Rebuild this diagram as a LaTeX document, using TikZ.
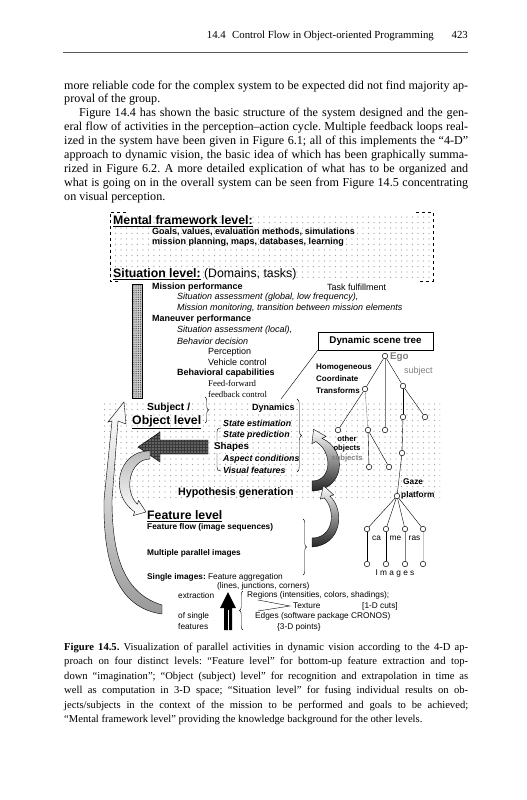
\documentclass[tikz,border=0pt]{standalone}
\usepackage{fontspec}
\setmainfont{Liberation Serif}
\setsansfont{Liberation Sans}
\usepackage{tikz}
\usetikzlibrary{calc,decorations.pathreplacing,patterns.meta}

\newcommand{\jl}[2][404pt]{\makebox[#1][s]{#2}}
\frenchspacing

\tikzset{
  hd/.style={inner sep=0pt, font=\fontsize{10.8}{12}\selectfont},
  txt/.style={anchor=base west, inner sep=0pt, font=\fontsize{12.1}{14}\selectfont},
  captxt/.style={anchor=base west, inner sep=0pt, font=\fontsize{10.6}{13}\selectfont},
  lvl/.style={anchor=west, inner sep=0pt, font=\sffamily\fontsize{12.3}{14}\selectfont},
  fig/.style={anchor=west, inner sep=0pt, font=\sffamily\fontsize{9}{10}\selectfont},
  figb/.style={fig, font=\sffamily\bfseries\fontsize{9}{10}\selectfont},
  figi/.style={fig, font=\sffamily\itshape\fontsize{9}{10}\selectfont},
  figbi/.style={fig, font=\sffamily\bfseries\itshape\fontsize{8.8}{10}\selectfont},
  fign/.style={fig, font=\sffamily\fontsize{8.3}{10}\selectfont},
  fignb/.style={fig, font=\sffamily\bfseries\fontsize{8.3}{10}\selectfont},
  tn/.style={circle, draw, fill=white, inner sep=0pt, minimum size=5.5pt, line width=0.5pt},
  dotfill/.style={pattern={Dots[distance=5.5pt, radius=0.55pt]}, pattern color=gray!75},
  brc/.style={decorate, decoration={brace, amplitude=3.5pt}, line width=0.4pt},
}

\begin{document}
\begin{tikzpicture}[x=1pt, y=-1pt]
  \useasboundingbox (0,0) rectangle (527,800);
  \fill[white] (0,0) rectangle (527,800);

  % Running head
  \node[hd, anchor=base east] (head) at (434,39) {14.4\hspace{0.6em}Control Flow in Object-oriented Programming};
  \node[hd, anchor=base east] (pageno) at (468,39) {423};
  \draw[line width=0.5pt, gray!70!black] (63,52) -- (468,52);

  % Body text
  \node[txt] (l1) at (64,89) {\jl{more reliable code for the complex system to be expected did not find majority ap-}};
  \node[txt] (l2) at (64,102.9) {proval of the group.};
  \node[txt] (l3) at (79,116.8) {\jl[389pt]{Figure 14.4 has shown the basic structure of the system designed and the gen-}};
  \node[txt] (l4) at (64,130.7) {\jl{eral flow of activities in the perception–action cycle. Multiple feedback loops real-}};
  \node[txt] (l5) at (64,144.6) {\jl{ized in the system have been given in Figure 6.1; all of this implements the “4-D”}};
  \node[txt] (l6) at (64,158.5) {\jl{approach to dynamic vision, the basic idea of which has been graphically summa-}};
  \node[txt] (l7) at (64,172.4) {\jl{rized in Figure 6.2. A more detailed explication of what has to be organized and}};
  \node[txt] (l8) at (64,186.3) {\jl{what is going on in the overall system can be seen from Figure 14.5 concentrating}};
  \node[txt] (l9) at (64,200.2) {on visual perception.};

  % Mental framework and situation level
  \fill[dotfill] (110,212) rectangle (433,281);
  \draw[dashed, line width=0.4pt] (126,212) -- (110,212) -- (110,281) -- (118,281);
  \draw[dashed, line width=0.4pt] (416,212) -- (433,212) -- (433,281) -- (418,281);
  \node[lvl] (mental) at (113,221) {\textbf{\underline{Mental framework level:}}};
  \node[figb] (goals) at (152,231.5) {Goals, values, evaluation methods, simulations};
  \node[figb] (plan) at (152,242) {mission planning, maps, databases, learning};
  \node[lvl] (sit) at (113,274) {\textbf{\underline{Situation level:}} (Domains, tasks)};

  \fill[gray!35] (132,284) rectangle (142,398);
  \fill[pattern={Dots[distance=1.8pt, radius=0.5pt]}, pattern color=gray!40!black] (132,284) rectangle (142,398);
  \draw[line width=0.5pt] (132,284) rectangle (142,398);

  \node[figb] (mperf) at (152,287) {Mission performance};
  \node[fig] (task) at (327,287) {Task fulfillment};
  \node[figi] (sglob) at (177,297.5) {Situation assessment (global, low frequency),};
  \node[figi] (mmon) at (177,308) {Mission monitoring, transition between mission elements};
  \node[figb] (manv) at (152,319) {Maneuver performance};
  \node[figi] (sloc) at (177,330) {Situation assessment (local),};
  \node[figi] (bdec) at (177,341) {Behavior decision};
  \node[fig] (perc) at (208,352) {Perception};
  \node[fig] (vctl) at (208,362) {Vehicle control};
  \node[figb] (bcap) at (177,373) {Behavioral capabilities};
  \node[fig, font=\rmfamily\fontsize{8.8}{10}\selectfont] (ff) at (208,383.5) {Feed-forward};
  \node[fig, font=\rmfamily\fontsize{8.8}{10}\selectfont] (fb) at (208,394.5) {feedback control};

  % Object level
  \fill[dotfill] (100,400) rectangle (440,501);
  \node[fig, font=\sffamily\bfseries\fontsize{10.3}{12}\selectfont] (subj) at (147,408) {Subject /};
  \node[lvl] (objlvl) at (132,422) {\textbf{\underline{Object level}}};
  \node[figb] (dyn) at (252,408) {Dynamics};
  \node[figbi] (sest) at (223,423) {State estimation};
  \node[figbi] (spred) at (223,435) {State prediction};
  \node[fig, font=\sffamily\bfseries\fontsize{9.8}{11}\selectfont] (shapes) at (214,447) {Shapes};
  \node[figbi] (asp) at (223,459) {Aspect conditions};
  \node[figbi] (vis) at (223,470) {Visual features};
  \node[fig, font=\sffamily\bfseries\fontsize{10.7}{12}\selectfont] (hyp) at (178,493) {Hypothesis generation};

  \draw[brc] (205,397) -- (205,423);
  \draw[line width=0.4pt] (221,428) .. controls (217,428) and (217,430) .. (217,434) -- (217,441);
  \draw[line width=0.4pt] (217,453) -- (217,467) .. controls (217,470) and (218,471) .. (221,471);
  \draw[brc, decoration={amplitude=4.5pt}] (297,399) -- (297,472);

  % Checkered arrow to the left
  \fill[gray!45!black] (208,440) -- (160,440) -- (160,432) -- (138,447) -- (160,462) -- (160,454) -- (208,454) -- cycle;
  \fill[pattern={Dots[distance=3pt, radius=0.65pt]}, pattern color=gray!15] (208,440) -- (160,440) -- (160,432) -- (138,447) -- (160,462) -- (160,454) -- (208,454) -- cycle;
  \draw[line width=0.4pt] (208,440) -- (160,440) -- (160,432) -- (138,447) -- (160,462) -- (160,454) -- (208,454) -- cycle;

  % Curved arrows
  \draw[line width=0.4pt, top color=white, middle color=white, bottom color=gray!80] (162,614) .. controls (118,608) and (103,565) .. (104,500) -- (112,421) -- (108,422) -- (124,402) -- (126,424) -- (118,421) -- (112,500) .. controls (112,560) and (126,594) .. (162,605) -- cycle;
  \draw[line width=0.4pt, top color=gray!55, bottom color=white] (150,451) .. controls (118,450) and (108,494) .. (134.7,511.8) -- (133.4,515.5) -- (146,512) -- (138.6,500.5) -- (137.3,504.2) .. controls (123,490) and (130,459) .. (150,459) -- cycle;
  \draw[line width=0.4pt, top color=white, bottom color=gray!30!black] (312,491) .. controls (345,490) and (348,450) .. (322.1,438.4) -- (326.1,436.4) -- (313.6,429.3) -- (311.9,443.6) -- (315.9,441.6) .. controls (333,452) and (332,481) .. (312,481) -- cycle;
  \draw[line width=0.4pt, top color=white, bottom color=gray!30!black] (312,547) .. controls (342,545) and (345,510) .. (329.9,496.1) -- (333.7,494.9) -- (323.4,485.6) -- (320.4,499.1) -- (324.2,497.9) .. controls (336,510) and (334,538) .. (312,538) -- cycle;

  % Feature level
  \node[lvl] (featlvl) at (147,516) {\textbf{\underline{Feature level}}};
  \node[fignb] (fflow) at (147,527.5) {Feature flow (image sequences)};
  \node[fignb] (mult) at (147,553) {Multiple parallel images};
  \node[fign] (single) at (147,577) {\textbf{Single images:} Feature aggregation};
  \node[fign] (lines) at (217,586.5) {(lines, junctions, corners)};
  \draw[brc] (303,519) -- (303,575);

  \node[fign] (extr) at (178,595.5) {extraction};
  \node[fign] (ofs) at (178,616) {of single};
  \node[fign] (feat) at (178,627) {features};
  \fill (224,630) -- (224,608) -- (220,608) -- (228,592) -- (236,608) -- (232,608) -- (232,630) -- cycle;
  \draw[white, line width=0.6pt] (228,610) -- (228,630);
  \draw[brc] (243,630) -- (243,591);
  \node[fign] (reg) at (247,595.5) {Regions (intensities, colors, shadings);};
  \draw[line width=0.4pt] (258,600) -- (290,606) -- (258,611);
  \node[fign] (tex) at (293,606) {Texture};
  \node[fign] (cuts) at (362,606) {[1-D cuts]};
  \node[fign] (edges) at (255,616.5) {Edges (software package CRONOS)};
  \node[fign] (pts) at (277,627) {\{3-D points\}};

  % Dynamic scene tree
  \node[draw, fill=white, line width=0.6pt, minimum width=115pt, minimum height=18pt, inner sep=0pt,
        font=\sffamily\bfseries\fontsize{9.8}{11}\selectfont] (dst) at (375.5,341) {Dynamic scene tree};
  \coordinate (dynlink) at (281,399);
  \draw[line width=0.4pt] (dst.south west) -- (dynlink);

  \node[tn] (ego) at (385,356) {};
  \node[tn] (t1) at (365,389) {};
  \node[tn] (t2) at (403,386) {};
  \node[tn] (t3) at (385,430) {};
  \node[tn] (t4) at (338,430) {};
  \node[tn] (t5) at (368,430) {};
  \node[tn] (t6) at (403,417) {};
  \node[tn] (t7) at (425,417) {};
  \node[tn] (t8) at (369,467) {};
  \node[tn] (t9) at (389,467) {};
  \node[tn] (t10) at (402,453) {};
  \node[tn] (gaze) at (397,496) {};
  \foreach \i/\x in {1/367,2/386,3/405,4/423} {
    \node[tn] (cam\i) at (\x,529) {};
    \node[tn] (img\i) at (\x,564) {};
  }

  \draw (ego) -- (t1);
  \draw[gray] (ego) -- (t3);
  \draw (ego) -- (t2);
  \draw (t1) -- (t4);
  \draw[gray] (t1) -- (t5);
  \draw (t5) -- (t8);
  \draw (t5) -- (t9);
  \draw (t2) -- (t6);
  \draw (t2) -- (t7);
  \draw (t6) -- (t10);
  \draw (t10) -- (gaze);
  \foreach \i in {1,...,4} \draw (gaze) -- (cam\i);
  \draw (cam1) -- (img1);
  \draw (cam2) -- (img2);
  \draw[gray] (cam3) -- (img3);
  \draw[gray!45] (cam4) -- (img4);

  \node[fig, font=\sffamily\bfseries\fontsize{9.8}{11}\selectfont, text=gray] (egot) at (390,357) {Ego};
  \node[fig, text=gray] (subjt) at (404,371) {subject};
  \node[fig, font=\sffamily\bfseries\fontsize{8}{10}\selectfont] (homo) at (316,368) {Homogeneous};
  \node[fig, font=\sffamily\bfseries\fontsize{8}{10}\selectfont] (coord) at (316,379) {Coordinate};
  \node[fig, font=\sffamily\bfseries\fontsize{8}{10}\selectfont] (trans) at (316,391) {Transforms};
  \node[fig, anchor=center, font=\sffamily\bfseries\fontsize{7.7}{9}\selectfont] (other) at (347,439) {other};
  \node[fig, anchor=center, font=\sffamily\bfseries\fontsize{7.7}{9}\selectfont] (objs) at (347,449) {objects};
  \node[fig, anchor=center, font=\sffamily\bfseries\fontsize{7.7}{9}\selectfont, text=gray] (subjs) at (347,459) {subjects};
  \node[fig, font=\sffamily\bfseries\fontsize{8.3}{10}\selectfont] (gazet) at (403,482) {Gaze};
  \node[fig, font=\sffamily\bfseries\fontsize{8.3}{10}\selectfont] (plat) at (401,495) {platform};
  \node[fign, anchor=center] (ca) at (376.5,538) {ca};
  \node[fign, anchor=center] (me) at (395.5,538) {me};
  \node[fign, anchor=center] (ras) at (414.5,538) {ras};
  \node[fign, anchor=center] (imgs) at (395,573) {I m a g e s};

  % Caption
  \node[captxt] (c1) at (64,650) {\jl{\textbf{Figure 14.5.} Visualization of parallel activities in dynamic vision according to the 4-D ap-}};
  \node[captxt] (c2) at (64,664.5) {\jl{proach on four distinct levels: “Feature level” for bottom-up feature extraction and top-}};
  \node[captxt] (c3) at (64,679) {\jl{down “imagination”; “Object (subject) level” for recognition and extrapolation in time as}};
  \node[captxt] (c4) at (64,693.5) {\jl{well as computation in 3-D space; “Situation level” for fusing individual results on ob-}};
  \node[captxt] (c5) at (64,708) {\jl{jects/subjects in the context of the mission to be performed and goals to be achieved;}};
  \node[captxt] (c6) at (64,722.5) {“Mental framework level” providing the knowledge background for the other levels.};
\end{tikzpicture}
\end{document}
